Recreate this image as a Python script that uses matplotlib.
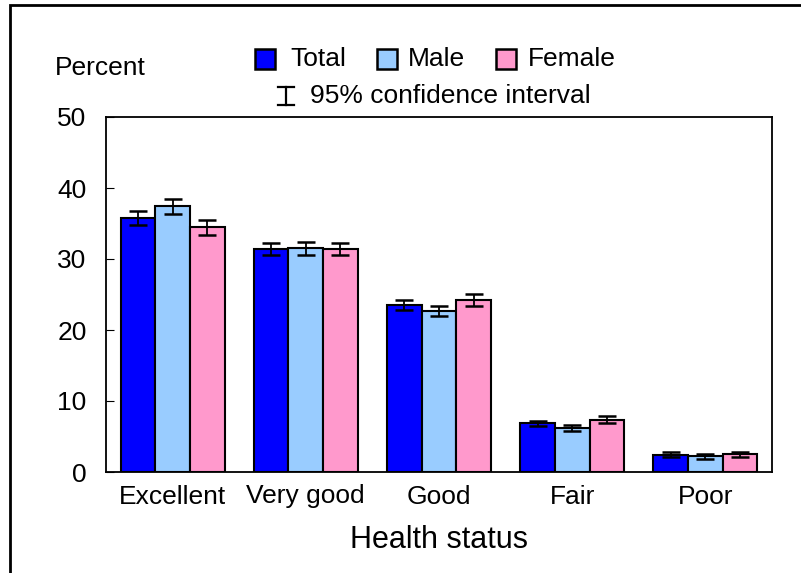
import numpy as np
import matplotlib
matplotlib.use("Agg")
from matplotlib import pyplot as plt
from matplotlib.patches import Rectangle
from matplotlib.lines import Line2D

plt.rcParams['font.family'] = ['Liberation Sans', 'DejaVu Sans']

categories = ["Excellent", "Very good", "Good", "Fair", "Poor"]
series = ["Total", "Male", "Female"]
total = [35.8, 31.4, 23.5, 6.85, 2.45]
male = [37.4, 31.5, 22.7, 6.2, 2.2]
female = [34.5, 31.4, 24.2, 7.35, 2.5]
total_ci = [0.95, 0.8, 0.7, 0.35, 0.3]
male_ci = [1.0, 0.9, 0.7, 0.45, 0.3]
female_ci = [1.05, 0.9, 0.85, 0.5, 0.35]
colors = ["#0000FF", "#99CCFF", "#FF99CC"]

W, H = 801, 573
fig = plt.figure(figsize=(W / 100, H / 100), dpi=100)
ax = fig.add_axes([106 / W, 1 - 472 / H, 666 / W, 355 / H])

x = np.arange(len(categories))
width = 0.26
values = [total, male, female]
cis = [total_ci, male_ci, female_ci]
for i in range(3):
    pos = x + (i - 1) * width
    ax.bar(pos, values[i], width, color=colors[i], edgecolor="black", linewidth=1.5, zorder=2)
    ax.errorbar(pos, values[i], yerr=cis[i], fmt="none", ecolor="black",
                elinewidth=1.3, capsize=6.5, capthick=1.8, zorder=3)

ax.set_xlim(-0.5, 4.5)
ax.set_ylim(0, 50)
ax.set_yticks([0, 10, 20, 30, 40, 50])
ax.set_xticks(x)
ax.set_xticklabels(categories, fontsize=19)
ax.tick_params(axis="x", length=0, pad=9)
ax.tick_params(axis="y", direction="in", length=6, labelsize=19, pad=14)
for s in ax.spines.values():
    s.set_linewidth(1.3)
ax.set_xlabel("Health status", fontsize=22, labelpad=12)

fig.text(55 / W, 1 - 68 / H, "Percent", fontsize=19, va="center", ha="left")

# legend drawn by hand
def fx(px):
    return px / W

def fy(py):
    return 1 - py / H

row1 = 59
items = [(255, 290, "Total"), (377, 408, "Male"), (496, 528, "Female")]
for (px, tx, lab), c in zip(items, colors):
    fig.patches.append(Rectangle((fx(px), fy(row1 + 10)), 20 / W, 20 / H, facecolor=c,
                                 edgecolor="black", linewidth=1.8, transform=fig.transFigure))
    fig.text(fx(tx), fy(row1), lab, fontsize=19, va="center", ha="left")

row2 = 96
cx = 286
for seg in [((cx, cx), (row2 - 9, row2 + 9)), ((cx - 8, cx + 8), (row2 - 9, row2 - 9)),
            ((cx - 8, cx + 8), (row2 + 9, row2 + 9))]:
    fig.lines.append(Line2D([fx(v) for v in seg[0]], [fy(v) for v in seg[1]],
                            color="black", linewidth=1.6, transform=fig.transFigure))
fig.text(fx(310), fy(row2), "95% confidence interval", fontsize=19, va="center", ha="left")

# outer frame
fig.patches.append(Rectangle((fx(10), fy(H + 20)), 1.2, (H + 15) / H, fill=False,
                             edgecolor="black", linewidth=2, transform=fig.transFigure))

fig.savefig("out.png", dpi=100)
